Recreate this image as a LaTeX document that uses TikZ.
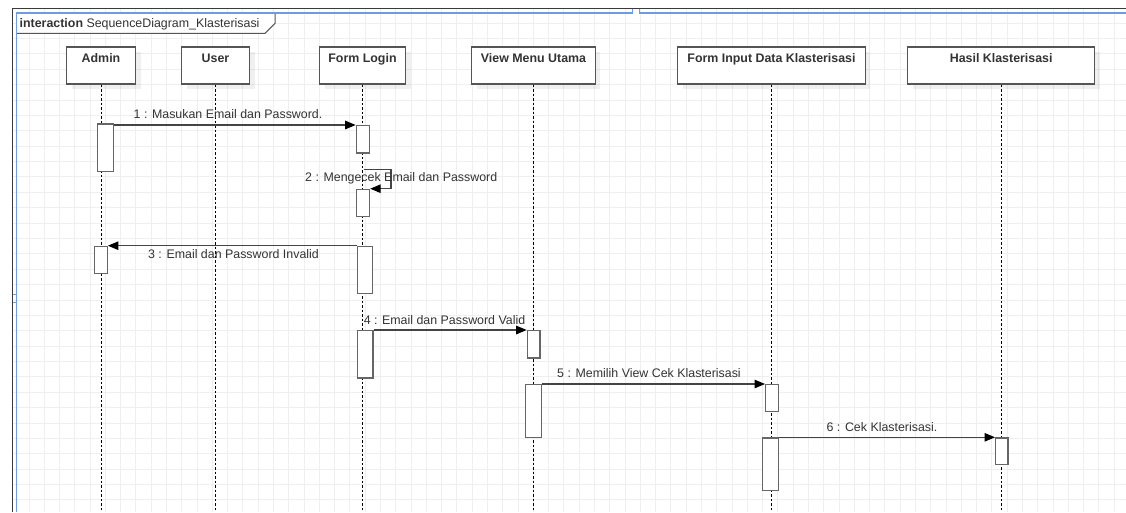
\documentclass[tikz,border=0pt]{standalone}
\usepackage{fontspec}
\setmainfont{Liberation Sans}
\usetikzlibrary{arrows.meta,shadows}
\definecolor{gridc}{HTML}{EFEFEF}
\definecolor{edge}{HTML}{555555}
\definecolor{actedge}{HTML}{666666}
\definecolor{msgc}{HTML}{444444}
\definecolor{txt}{HTML}{333333}
\definecolor{selblue}{HTML}{6C9BEA}
\definecolor{framec}{HTML}{3A3A3A}
\begin{document}
\begin{tikzpicture}[x=1pt,y=-1pt,
  gridline/.style={draw=gridc, line width=1pt},
  head/.style={draw=edge, line width=1.2pt, fill=white, rectangle, minimum height=37pt, inner sep=0pt,
    drop shadow={shadow xshift=5pt, shadow yshift=-5pt, fill=black, opacity=0.06}},
  headtext/.style={font=\fontsize{12.4}{14}\selectfont\bfseries, text=txt, inner sep=0pt, anchor=base},
  lifeline/.style={draw=black, line width=0.9pt, dash pattern=on 2.5pt off 2pt},
  act/.style={draw=actedge, line width=1.2pt, fill=white, rectangle, inner sep=0pt, anchor=north west},
  msg/.style={draw=msgc, line width=1.1pt, -{Triangle[length=10.5pt,width=8.5pt,color=black]}},
  msgtext/.style={font=\fontsize{12.4}{14}\selectfont, text=txt, inner sep=0pt, text height=9pt, text depth=2.6pt},
]
\useasboundingbox (0,0) rectangle (1126,512);
\fill[white] (0,0) rectangle (1126,512);
\coordinate (bottom) at (0,512);

% background grid inside the frame
\begin{scope}
  \clip (12,8) rectangle (1126,512);
  \foreach \i in {0,...,71} \draw[gridline] ({29+\i*15.285},8) -- ++(0,504);
  \foreach \j in {0,...,32} \draw[gridline] (12,{7.8+\j*15.38}) -- ++(1114,0);
\end{scope}

% interaction frame and its name tag
\draw[framec, line width=1.2pt] (12.3,512) -- (12.3,8.3) -- (1126,8.3);
\draw[edge, line width=1pt, fill=white] (16.5,13) -- (275,13) -- (275,23.3) -- (265,33.3) -- (16.5,33.3);
\node[msgtext, anchor=west] (frametag) at (19.5,24) {\textbf{interaction} SequenceDiagram\_Klasterisasi};
\draw[selblue, line width=1.6pt] (16.5,512) -- (16.5,13) -- (632,13);
\draw[selblue, line width=1.6pt] (639,13) -- (1126,13);
\draw[selblue, line width=1pt] (632,8.5) -- (632,14) (639,8.5) -- (639,14);
\draw[selblue, line width=1pt] (12.5,294.3) -- (17,294.3) (12.5,302.3) -- (17,302.3);

% lifeline heads
\node[head, minimum width=69pt]    (admin) at (101,65.5) {};
\node[head, minimum width=68pt]    (user)  at (215.5,65.5) {};
\node[head, minimum width=86pt]    (login) at (362.5,65.5) {};
\node[head, minimum width=123.3pt] (menu)  at (533.5,65.5) {};
\node[head, minimum width=187.3pt] (input) at (771.5,65.5) {};
\node[head, minimum width=187pt]   (hasil) at (1001.2,65.5) {};

\node[headtext] (tAdmin) at ([yshift=-16.3pt]admin.north) {Admin};
\node[headtext] (tUser)  at ([yshift=-16.3pt]user.north)  {User};
\node[headtext] (tLogin) at ([yshift=-16.3pt]login.north) {Form Login};
\node[headtext] (tMenu)  at ([yshift=-16.3pt]menu.north)  {View Menu Utama};
\node[headtext] (tInput) at ([yshift=-16.3pt]input.north) {Form Input Data Klasterisasi};
\node[headtext] (tHasil) at ([yshift=-16.3pt]hasil.north) {Hasil Klasterisasi};

% lifelines
\foreach \n in {admin,user,login,menu,input,hasil}
  \draw[lifeline] (\n.south) -- (\n.south |- bottom);

% activation bars
\node[act, minimum width=16pt,   minimum height=47.4pt] (a1) at (97,123.3) {};
\node[act, minimum width=12.7pt, minimum height=27pt]   (a2) at (94,245.7) {};
\node[act, minimum width=13.3pt, minimum height=27.3pt] (f1) at (355.7,125) {};
\node[act, minimum width=13pt,   minimum height=27pt]   (f2) at (356,188.7) {};
\node[act, minimum width=15.3pt, minimum height=47pt]   (f3) at (356.7,245.7) {};
\node[act, minimum width=15.6pt, minimum height=47.3pt] (f4) at (356.7,330) {};
\node[act, minimum width=12.6pt, minimum height=27.3pt] (v1) at (526.7,330) {};
\node[act, minimum width=15.7pt, minimum height=52.7pt] (v2) at (525,384) {};
\node[act, minimum width=12.7pt, minimum height=27pt]   (i1) at (765,384) {};
\node[act, minimum width=16pt,   minimum height=52.7pt] (i2) at (761.7,437.3) {};
\node[act, minimum width=12.3pt, minimum height=26.7pt] (h1) at (995,437.3) {};

% messages
\coordinate (s2) at (363.5,169.3);
\draw[msg] (a1.east |- f1.north) -- (f1.north west);
\draw[msg] (s2) -- ++(27.5,0) |- (f2.north east);
\draw[msg] (f3.north west) -- (a2.north east);
\draw[msg] (f4.north east) -- (v1.north west);
\draw[msg] (v2.north east) -- (i1.north west);
\draw[msg] (i2.north east) -- (h1.north west);

% message labels
\node[msgtext] (m1) at (228,115.2) {1 : Masukan Email dan Password.};
\node[msgtext, anchor=west] (m2) at (305,178) {2 : Mengecek Email dan Password};
\node[msgtext] (m3) at (233.5,255.2) {3 : Email dan Password Invalid};
\node[msgtext] (m4) at (444.5,321) {4 : Email dan Password Valid};
\node[msgtext] (m5) at (649,374.2) {5 : Memilih View Cek Klasterisasi};
\node[msgtext] (m6) at (882,428) {6 : Cek Klasterisasi.};
\end{tikzpicture}
\end{document}
